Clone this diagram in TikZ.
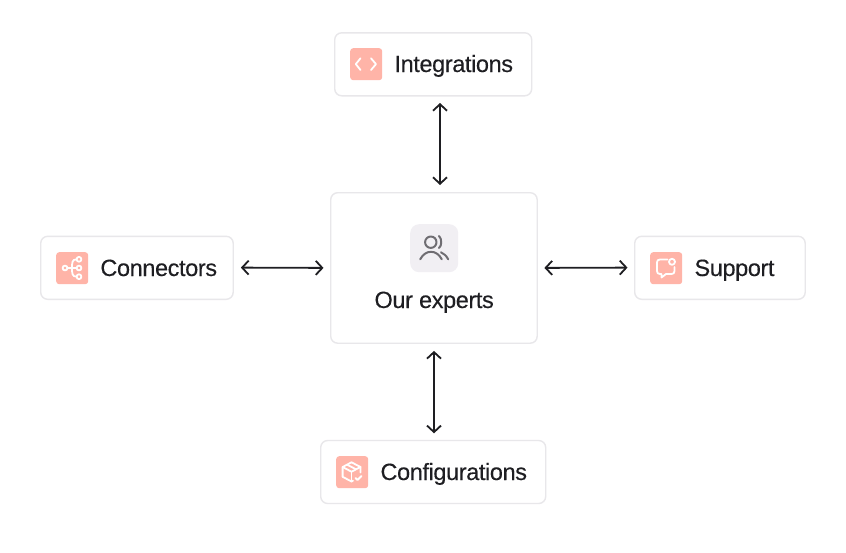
\documentclass[tikz,border=0pt]{standalone}
\usepackage{fontspec}
\setmainfont[LetterSpace=-1.65,FakeBold=0.25]{Liberation Sans}
\usetikzlibrary{arrows.meta}
\definecolor{ink}{HTML}{1E1E22}
\definecolor{edge}{HTML}{E8E7EA}
\definecolor{pinkbg}{HTML}{FFB4A8}
\definecolor{greybg}{HTML}{F1EFF3}
\definecolor{greyic}{HTML}{6F6D72}
\tikzset{
  boxnode/.style={draw=edge,line width=1.4pt,fill=white,rounded corners=7pt,inner sep=0pt,anchor=north west},
  iconbg/.style={fill=pinkbg,rounded corners=3pt,inner sep=0pt,minimum size=32pt,anchor=north west},
  lab/.style={inner sep=0pt,anchor=base west,text=ink,font=\fontsize{23.5pt}{26pt}\selectfont},
  ic/.style={draw=white,line width=1.8pt,line cap=round,line join=round},
  icg/.style={draw=greyic,line width=2pt,line cap=round,line join=round},
  arr/.style={draw=ink,line width=1.8pt,{Straight Barb[length=6.5pt,width=14pt]}-{Straight Barb[length=6.5pt,width=14pt]}},
  shadowlayer/.style={fill=black,fill opacity=0.0011,draw=none}
}
\newcommand{\softshadow}[4]{%
  \foreach \s in {2,6,...,34}{%
    \fill[shadowlayer,rounded corners=\s pt+6pt] (#1-\s,#2-\s+8) rectangle (#3+\s,#4+\s+8);
  }}
\begin{document}
\begin{tikzpicture}[x=1pt,y=-1pt]
\useasboundingbox (0,0) rectangle (846,552);
\fill[white] (0,0) rectangle (846,552);
\softshadow{335}{33}{531}{95}
\softshadow{41}{236}{233}{299}
\softshadow{635}{236}{805}{299}
\softshadow{321}{441}{545}{503}
\softshadow{331}{193}{537}{343}

\node[boxnode,minimum width=197pt,minimum height=63pt] (integ) at (334,32.1) {};
\node[boxnode,minimum width=192.5pt,minimum height=63pt] (conn) at (40,235.6) {};
\node[boxnode,minimum width=170.5pt,minimum height=63pt] (supp) at (634,235.6) {};
\node[boxnode,minimum width=225pt,minimum height=63pt] (conf) at (320,439.8) {};
\node[boxnode,minimum width=206.5pt,minimum height=150.5pt] (expert) at (330,192) {};

\draw[arr] ([xshift=6.05pt,yshift=7pt]expert.north) -- ([xshift=6.8pt,yshift=-6.5pt]integ.south);
\draw[arr] ([xshift=.05pt,yshift=-7pt]expert.south) -- ([xshift=.8pt,yshift=6.5pt]conf.north);
\draw[arr] ([xshift=7pt,yshift=.2pt]conn.east) -- ([xshift=-6.5pt,yshift=.05pt]expert.west);
\draw[arr] ([xshift=6.5pt,yshift=.05pt]expert.east) -- ([xshift=-6.5pt,yshift=.2pt]supp.west);

% Integrations
\node[iconbg] (i1) at (350,48) {};
\draw[ic] (360.5,58.3) -- (355.8,64.1) -- (360.5,70);
\draw[ic] (371,58.3) -- (376,64.1) -- (371,70);
\node[lab] (t1) at (394.3,72) {Integrations};

% Connectors
\node[iconbg] (i2) at (56,252) {};
\draw[ic] (65,268) circle (2.4);
\draw[ic] (79,259.3) circle (2.4);
\draw[ic] (79,268) circle (2.4);
\draw[ic] (79,276.7) circle (2.4);
\draw[ic] (67.4,268) -- (76.6,268);
\draw[ic] (76.6,259.3) .. controls (72,259.3) and (72,263) .. (72,268) .. controls (72,273) and (72,276.7) .. (76.6,276.7);
\node[lab] (t2) at (100.2,276) {Connectors};

% Support
\node[iconbg] (i3) at (650,252) {};
\draw[ic] (667.5,259.5) -- (660,259.5) .. controls (658,259.5) and (657,260.5) .. (657,262.5) -- (657,271) .. controls (657,273) and (658,274) .. (660,274) -- (661.5,274) -- (661.5,277.5) -- (666,274) -- (671.5,274) .. controls (673.5,274) and (674.5,273) .. (674.5,271) -- (674.5,267);
\draw[ic] (672,261.8) circle (3);
\node[lab] (t3) at (694.3,276) {Support};

% Configurations
\node[iconbg] (i4) at (336,456) {};
\draw[ic] (351.5,462.3) -- (360.5,467) -- (360.5,472.5);
\draw[ic] (351.5,462.3) -- (342.6,467) -- (342.6,476.8) -- (351.5,481.5) -- (353,480.7);
\draw[ic] (342.6,467) -- (351.5,471.7) -- (360.5,467);
\draw[ic] (351.5,471.7) -- (351.5,481.5);
\draw[ic] (347,464.6) -- (356,469.3);
\draw[ic] (355.5,478) -- (357.5,480) -- (361.5,476);
\node[lab] (t4) at (380.3,480) {Configurations};

% Our experts
\node[fill=greybg,rounded corners=9pt,inner sep=0pt,minimum size=48pt,anchor=north west] (i5) at (410,224) {};
\draw[icg] (430.8,242.2) circle (5.7);
\draw[icg] (439,236) .. controls (442,238.5) and (442,246) .. (439,248);
\draw[icg] (420.2,259.3) .. controls (423,254) and (427,251.8) .. (431,251.8) .. controls (435,251.8) and (439,254) .. (441.8,259.3);
\draw[icg] (441,252.3) .. controls (444,253.5) and (446.5,256) .. (448.2,259.3);
\node[lab] (t5) at (374.3,308) {Our experts};
\end{tikzpicture}
\end{document}
